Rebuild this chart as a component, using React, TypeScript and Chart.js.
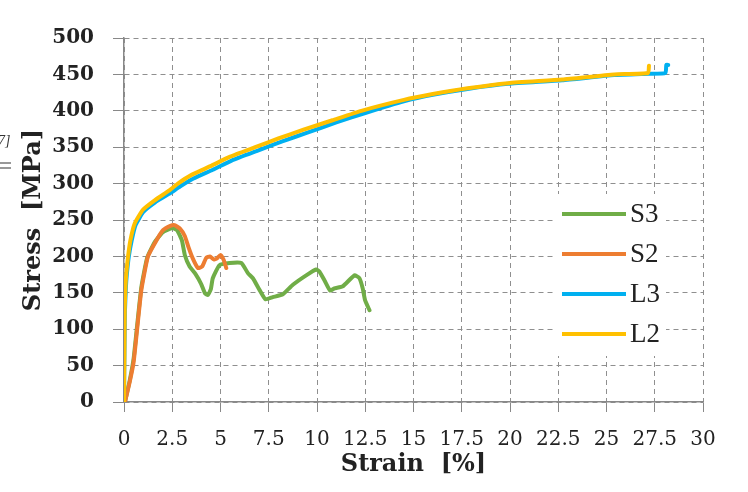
import React, { useEffect, useRef } from "react";
import { Chart, registerables } from "chart.js";

Chart.register(...registerables);

// ---- Data (strain [%], stress [MPa]) ----
const S3_strain = [0.05, 0.3, 0.5, 0.7, 0.9, 1.2, 1.6, 2.0, 2.5, 2.75, 3.0, 3.15, 3.4, 3.7, 4.0, 4.2, 4.35, 4.5, 4.6, 4.95, 5.47, 6.08, 6.42, 6.68, 7.02, 7.33, 7.71, 8.23, 8.75, 9.44, 9.96, 10.13, 10.39, 10.68, 10.9, 11.34, 11.94, 12.2, 12.37, 12.49, 12.72];
const S3_stress = [0, 30, 60, 110, 158, 198, 220, 233, 239, 236, 222, 202, 186, 176, 162, 149, 147, 155, 170, 188, 191, 191, 177, 170, 154, 141, 144, 148, 161, 174, 182, 179, 167, 153, 156, 159, 174, 170, 156, 140, 126];

const S2_strain = [0.05, 0.3, 0.5, 0.7, 0.9, 1.24, 1.68, 2.02, 2.4, 2.62, 2.9, 3.15, 3.35, 3.55, 3.83, 4.05, 4.26, 4.45, 4.65, 4.8, 5.0, 5.15, 5.3];
const S2_stress = [0, 28, 55, 105, 154, 200, 222, 236, 242, 243, 238, 228, 212, 198, 184, 186, 198, 200, 196, 197, 202, 196, 184];

const L3_strain = [0, 0.02, 0.05, 0.1, 0.15, 0.25, 0.4, 0.6, 1.0, 1.6, 2.4, 2.9, 3.6, 4.6, 5.6, 7.0, 8.2, 9.5, 11.0, 12.5, 14.5, 16.0, 17.8, 19.9, 22.7, 25.4, 27.2, 28.05, 28.1, 28.2];
const L3_stress = [0, 60, 125, 158, 176, 200, 222, 243, 261, 274, 287, 296, 307, 319, 332, 346, 358, 370, 384, 397, 413, 422, 430, 437, 442, 449, 451, 452, 463, 463];

const L2_strain = [0, 0.02, 0.04, 0.08, 0.12, 0.21, 0.33, 0.55, 0.98, 1.59, 2.37, 2.79, 3.5, 4.48, 5.5, 6.8, 8.0, 9.3, 10.8, 12.3, 14.5, 16.0, 17.8, 19.9, 22.7, 25.4, 27.15, 27.2];
const L2_stress = [0, 60, 130, 160, 177, 200, 222, 245, 264, 277, 291, 300, 312, 324, 337, 350, 362, 374, 387, 400, 415, 423, 431, 438, 443, 450, 452, 462];

const seriesNames = ["S3", "S2", "L3", "L2"];
const seriesColors = ["#70AD47", "#ED7D31", "#00B0F0", "#FFC000"];

const pts = (xs: number[], ys: number[]) => xs.map((x, i) => ({ x, y: ys[i] }));

const legendPlugin = {
  id: "insideLegend",
  afterDraw(chart: any) {
    const ctx = chart.ctx;
    ctx.save();
    ctx.fillStyle = "#ffffff";
    ctx.fillRect(554, 194, 112, 162);
    const ys = [214, 254, 294, 334];
    seriesNames.forEach((name, i) => {
      ctx.strokeStyle = seriesColors[i];
      ctx.lineWidth = 4;
      ctx.beginPath();
      ctx.moveTo(562, ys[i]);
      ctx.lineTo(626, ys[i]);
      ctx.stroke();
      ctx.fillStyle = "#222";
      ctx.font = "27px 'Liberation Serif'";
      ctx.textAlign = "left";
      ctx.textBaseline = "middle";
      ctx.fillText(name, 630, ys[i] + 1);
    });
    // cropped margin fragment at the left edge
    ctx.fillStyle = "#333";
    ctx.font = "italic 14px 'Liberation Serif'";
    ctx.fillText("7]", -2, 141);
    ctx.strokeStyle = "#333";
    ctx.lineWidth = 1.2;
    ctx.beginPath();
    ctx.moveTo(0, 163);
    ctx.lineTo(11, 163);
    ctx.moveTo(0, 168);
    ctx.lineTo(11, 168);
    ctx.stroke();
    ctx.restore();
  },
};

export default function App() {
  const ref = useRef<HTMLCanvasElement>(null);
  useEffect(() => {
    if (!ref.current) return;
    const mk = (label: string, color: string, data: any[]) => ({
      label,
      data,
      borderColor: color,
      backgroundColor: color,
      borderWidth: 4,
      pointRadius: 0,
      tension: 0.15,
      borderJoinStyle: "round" as const,
      borderCapStyle: "round" as const,
    });
    const chart = new Chart(ref.current, {
      type: "line",
      data: {
        datasets: [
          mk("L2", seriesColors[3], pts(L2_strain, L2_stress)),
          mk("L3", seriesColors[2], pts(L3_strain, L3_stress)),
          mk("S2", seriesColors[1], pts(S2_strain, S2_stress)),
          mk("S3", seriesColors[0], pts(S3_strain, S3_stress)),
        ],
      },
      options: {
        animation: false,
        responsive: false,
        devicePixelRatio: 1,
        layout: { padding: { top: 38, right: 45, left: 0, bottom: 0 } },
        plugins: { legend: { display: false }, tooltip: { enabled: false } },
        scales: {
          x: {
            type: "linear",
            min: 0,
            max: 30,
            afterFit: (s: any) => {
              s.height = 90;
            },
            ticks: {
              stepSize: 2.5,
              autoSkip: false,
              maxRotation: 0,
              padding: 16,
              color: "#222",
              font: { family: "'DejaVu Serif'", size: 20 },
            },
            grid: {
              color: "#8f8f8f",
              lineWidth: 1,
              tickLength: 10,
              tickColor: "#888",
              tickBorderDash: [],
            },
            border: { display: true, color: "#888", width: 1.5, dash: [5, 4] },
            title: {
              display: true,
              text: "Strain  [%]",
              color: "#222",
              font: { family: "'DejaVu Serif'", size: 24, weight: "bold" },
              padding: { top: 0, bottom: 13 },
            },
          },
          y: {
            type: "linear",
            min: 0,
            max: 500,
            afterFit: (s: any) => {
              s.width = 124;
            },
            ticks: {
              stepSize: 50,
              padding: 19,
              color: "#222",
              font: { family: "'DejaVu Serif'", size: 20, weight: "bold" },
            },
            grid: {
              color: "#8f8f8f",
              lineWidth: 1,
              tickLength: 11,
              tickColor: "#888",
              tickBorderDash: [],
            },
            border: { display: true, color: "#888", width: 1.5, dash: [5, 4] },
            title: {
              display: true,
              text: "Stress  [MPa]",
              color: "#222",
              font: { family: "'DejaVu Serif'", size: 24, weight: "bold" },
              padding: { top: 19, bottom: 0 },
            },
          },
        },
      },
      plugins: [legendPlugin],
    });
    return () => chart.destroy();
  }, []);
  return (
    <div style={{ position: "fixed", left: 0, top: 0, width: 748, height: 492, background: "#fff" }}>
      <canvas ref={ref} width={748} height={492} />
    </div>
  );
}
